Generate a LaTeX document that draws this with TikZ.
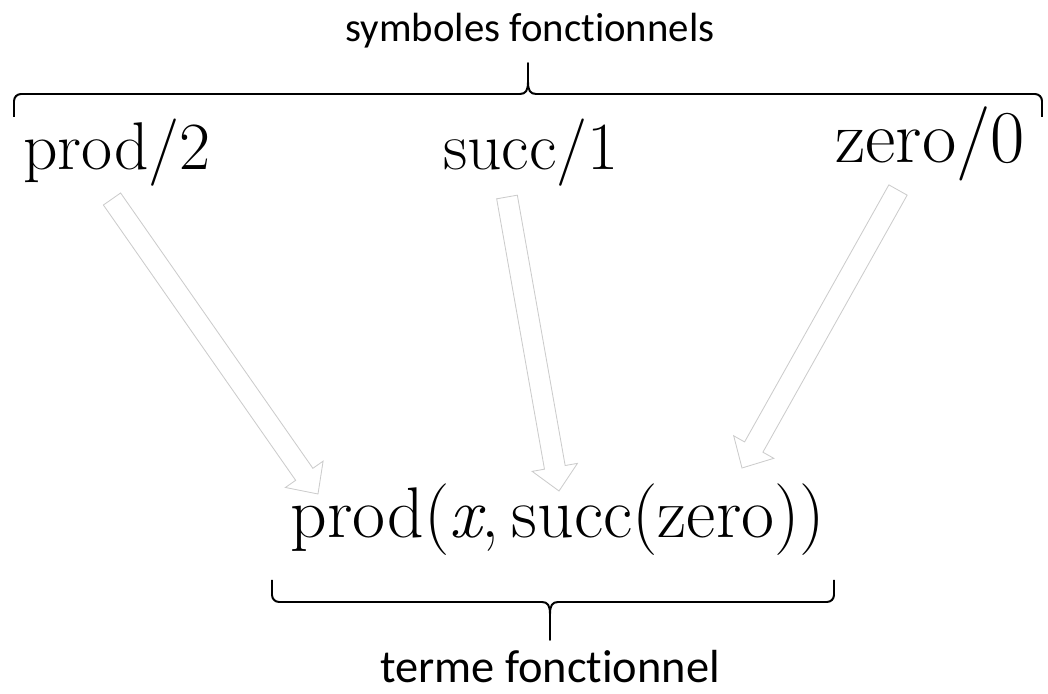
\documentclass[tikz,border=0pt]{standalone}
\usepackage{fontspec}
\setsansfont{Carlito}[Ligatures=CommonOff]
\usetikzlibrary{calc}
\tikzset{
  symb/.style={font=\fontsize{48}{52}\selectfont, inner sep=0pt, anchor=base},
  lbl/.style={font=\sffamily\fontsize{29}{32}\selectfont, inner sep=0pt, anchor=base},
  blockarr/.style={draw=gray!40, line width=0.6pt, fill=white, line join=miter},
  bracepath/.style={line width=1.4pt, line join=round}
}
% hollow block arrow from tail #1 to tip #2
\newcommand{\hollowarrow}[2]{%
  \coordinate (#1-head) at ($(#2)!0.6cm!(#1)$);
  \draw[blockarr] ($(#1)!0.2625cm!90:(#2)$)
    -- ($(#1-head)!0.2625cm!-90:(#1)$)
    -- ($(#1-head)!0.575cm!-90:(#1)$)
    -- (#2)
    -- ($(#1-head)!0.575cm!90:(#1)$)
    -- ($(#1-head)!0.2625cm!90:(#1)$)
    -- ($(#1)!0.2625cm!-90:(#2)$) -- cycle;}

\begin{document}
\begin{tikzpicture}[x=0.025cm,y=-0.025cm]
\useasboundingbox (0,0) rectangle (1048,694);
\node[lbl] (symbl) at (530,42) {symboles fonctionnels};
\node[symb] (prodsym) at (117,170) {prod/2};
\node[symb] (succsym) at (531,170) {succ/1};
\node[symb, font=\fontsize{53}{58}\selectfont] (zerosym) at (930,163) {zero/0};
\node[symb, font=\fontsize{51}{56}\selectfont] (term) at (558,538) {prod(\textit{x},\,succ(zero))};
\node[lbl, font=\sffamily\fontsize{33}{36}\selectfont] (termlbl) at (550,683) {terme fonctionnel};
% brace over the symbols
\draw[bracepath, rounded corners=5pt] (14,117) -- (14,94) -- (520,94);
\draw[bracepath] (520,94) .. controls (526,94) and (528,90) .. (528,82) -- (528,63)
  -- (528,82) .. controls (528,90) and (530,94) .. (536,94);
\draw[bracepath, rounded corners=5pt] (536,94) -- (1042,94) -- (1042,117);
% brace under the term
\draw[bracepath, rounded corners=5pt] (272,580) -- (272,602) -- (542,602);
\draw[bracepath] (542,602) .. controls (548,602) and (550,606) .. (550,614) -- (550,640)
  -- (550,614) .. controls (550,606) and (552,602) .. (558,602);
\draw[bracepath, rounded corners=5pt] (558,602) -- (834,602) -- (834,580);
% arrows
\coordinate (t1) at (112,199);
\coordinate (h1) at (318,494);
\coordinate (t2) at (507,197);
\coordinate (h2) at (559,491);
\coordinate (t3) at (898,190);
\coordinate (h3) at (742,468);
\hollowarrow{t1}{h1}
\hollowarrow{t2}{h2}
\hollowarrow{t3}{h3}
\end{tikzpicture}
\end{document}
